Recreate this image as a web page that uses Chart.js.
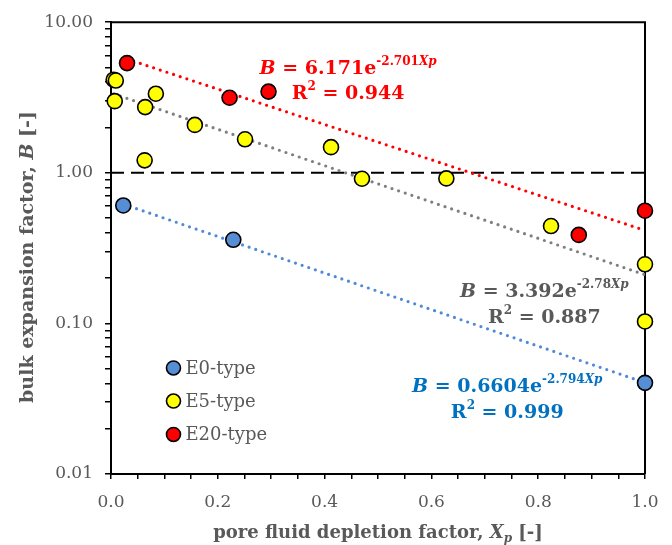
<!DOCTYPE html>
<html>
<head>
<meta charset="utf-8">
<script src="https://cdn.jsdelivr.net/npm/chart.js@4.4.1/dist/chart.umd.min.js"></script>
<style>
  html, body { margin: 0; padding: 0; background: #fff; }
</style>
</head>
<body>
<canvas id="chart" width="672" height="545"></canvas>
<script>
// E0-type samples
const e0X = [0.023, 0.229, 1.0];
const e0B = [0.607, 0.359, 0.0403];

// E5-type samples
const e5X = [0.005, 0.009, 0.007, 0.064, 0.084, 0.063, 0.157, 0.251, 0.412, 0.470, 0.628, 0.824, 1.0, 1.0];
const e5B = [4.15, 4.10, 2.99, 2.73, 3.35, 1.21, 2.08, 1.67, 1.48, 0.913, 0.918, 0.443, 0.247, 0.103];

// E20-type samples
const e20X = [0.030, 0.222, 0.295, 0.876, 1.0];
const e20B = [5.35, 3.15, 3.46, 0.387, 0.56];

// exponential fits B = a * exp(b * Xp), same order as the series
const seriesNames = ["E0-type", "E5-type", "E20-type"];
const fitA = [0.6604, 3.392, 6.171];
const fitB = [-2.794, -2.78, -2.701];
const fitR2 = [0.999, 0.887, 0.944];

// axis ticks
const yMajor = [0.01, 0.1, 1, 10];
const xLabels = [0, 0.2, 0.4, 0.6, 0.8, 1.0];

// styling
const FONT = "'DejaVu Serif', serif";
const markerFill = ["#558ed5", "#ffff00", "#ff0000"];
const trendColor = ["#4f8ad8", "#7f7f7f", "#ff0000"];
const eqColor = ["#0070c0", "#595959", "#ff0000"];
const textGray = "#595959";

// where the fit equations sit (data coords: centre x, baseline of each line)
const eqAnchor = [
  { x: 0.742, y1: 0.0348, y2: 0.0237 },
  { x: 0.8115, y1: 0.150, y2: 0.101 },
  { x: 0.444, y1: 4.54, y2: 3.07 }
];
const legendAnchor = { x: 0.117, y: [0.0506, 0.0305, 0.0183] };

const allX = [e0X, e5X, e20X];
const allB = [e0B, e5B, e20B];

function toPoints(xs, ys) {
  return xs.map((x, i) => ({ x: x, y: ys[i] }));
}

// trend line drawn between the smallest and largest Xp of a series
function trendPoints(s) {
  const lo = Math.min(...allX[s]);
  const hi = Math.max(...allX[s]);
  return [lo, hi].map(x => ({ x: x, y: fitA[s] * Math.exp(fitB[s] * x) }));
}

const datasets = [];
[0, 1, 2].forEach(s => {
  datasets.push({
    type: "scatter",
    label: seriesNames[s],
    data: toPoints(allX[s], allB[s]),
    backgroundColor: markerFill[s],
    borderColor: "#000",
    pointRadius: 7.5,
    pointBorderWidth: 1.6,
    order: 2 - s,
    clip: false
  });
});
[0, 1, 2].forEach(s => {
  datasets.push({
    type: "line",
    label: seriesNames[s] + " fit",
    data: trendPoints(s),
    borderColor: trendColor[s],
    borderWidth: 3.2,
    borderDash: [0, 7],
    borderCapStyle: "round",
    pointRadius: 0,
    fill: false,
    order: 5
  });
});
// B = 1 reference line
datasets.push({
  type: "line",
  label: "B = 1",
  data: [{ x: 0, y: 1 }, { x: 1, y: 1 }],
  borderColor: "#000",
  borderWidth: 2,
  borderDash: [13, 7],
  pointRadius: 0,
  fill: false,
  order: 6
});

// draw a row of text pieces with mixed fonts
function drawRuns(ctx, runs, x, y, align) {
  let total = 0;
  runs.forEach(r => {
    ctx.font = r.font;
    r.w = ctx.measureText(r.text).width;
    total += r.w;
  });
  let cx = align === "center" ? x - total / 2 : x;
  runs.forEach(r => {
    ctx.font = r.font;
    ctx.fillStyle = r.color;
    ctx.fillText(r.text, cx, y + (r.dy || 0));
    cx += r.w;
  });
}

const framePlugin = {
  id: "frame",
  beforeDatasetsDraw(chart) {
    const { ctx, chartArea: a } = chart;
    ctx.save();
    ctx.strokeStyle = "#000";
    ctx.lineWidth = 2;
    ctx.beginPath();
    ctx.moveTo(a.left, a.top);
    ctx.lineTo(a.right, a.top);
    ctx.lineTo(a.right, a.bottom);
    ctx.stroke();
    ctx.restore();
  }
};

const textPlugin = {
  id: "texts",
  afterDatasetsDraw(chart) {
    const { ctx, chartArea: a } = chart;
    const xs = chart.scales.x, ys = chart.scales.y;
    ctx.save();
    ctx.textBaseline = "alphabetic";

    // fit equations
    [0, 1, 2].forEach(s => {
      const c = eqColor[s];
      const big = "bold 19px " + FONT;
      const bigI = "italic bold 19px " + FONT;
      const sup = "bold 12px " + FONT;
      const supI = "italic bold 12px " + FONT;
      const px = xs.getPixelForValue(eqAnchor[s].x);
      drawRuns(ctx, [
        { text: "B", font: bigI, color: c },
        { text: " = " + fitA[s] + "e", font: big, color: c },
        { text: String(fitB[s]), font: sup, color: c, dy: -9 },
        { text: "Xp", font: supI, color: c, dy: -9 }
      ], px, ys.getPixelForValue(eqAnchor[s].y1), "center");
      drawRuns(ctx, [
        { text: "R", font: big, color: c },
        { text: "2", font: sup, color: c, dy: -9 },
        { text: " = " + fitR2[s].toFixed(3), font: big, color: c }
      ], px, ys.getPixelForValue(eqAnchor[s].y2), "center");
    });

    // legend
    ctx.textBaseline = "middle";
    [0, 1, 2].forEach(s => {
      const mx = xs.getPixelForValue(legendAnchor.x);
      const my = ys.getPixelForValue(legendAnchor.y[s]);
      ctx.beginPath();
      ctx.arc(mx, my, 7, 0, Math.PI * 2);
      ctx.fillStyle = markerFill[s];
      ctx.fill();
      ctx.lineWidth = 1.6;
      ctx.strokeStyle = "#000";
      ctx.stroke();
      ctx.font = "18px " + FONT;
      ctx.fillStyle = textGray;
      ctx.fillText(seriesNames[s], mx + 12, my + 1);
    });

    // axis titles
    ctx.textBaseline = "alphabetic";
    const tb = "bold 18px " + FONT;
    const tbi = "italic bold 18px " + FONT;
    drawRuns(ctx, [
      { text: "pore fluid depletion factor, ", font: tb, color: textGray },
      { text: "X", font: tbi, color: textGray },
      { text: "p", font: "italic bold 12px " + FONT, color: textGray, dy: 4 },
      { text: " [-]", font: tb, color: textGray }
    ], (a.left + a.right) / 2, 538, "center");

    const yb = "bold 19px " + FONT;
    const ybi = "italic bold 19px " + FONT;
    ctx.translate(33, 257);
    ctx.rotate(-Math.PI / 2);
    drawRuns(ctx, [
      { text: "bulk expansion factor, ", font: yb, color: textGray },
      { text: "B", font: ybi, color: textGray },
      { text: " [-]", font: yb, color: textGray }
    ], 0, 0, "center");
    ctx.restore();
  }
};

new Chart(document.getElementById("chart"), {
  data: { datasets: datasets },
  options: {
    responsive: false,
    animation: false,
    devicePixelRatio: 1,
    layout: { padding: { top: 18, right: 27, left: 0, bottom: 0 } },
    plugins: { legend: { display: false }, tooltip: { enabled: false } },
    scales: {
      x: {
        type: "linear",
        min: 0,
        max: 1,
        afterBuildTicks: axis => {
          const t = [];
          for (let i = 0; i <= 20; i++) t.push({ value: i / 20 });
          axis.ticks = t;
        },
        ticks: {
          autoSkip: false,
          maxRotation: 0,
          padding: 13,
          color: textGray,
          font: { family: FONT, size: 17 },
          callback: v => xLabels.some(l => Math.abs(l - v) < 1e-9) ? v.toFixed(1) : ""
        },
        grid: { drawOnChartArea: false, drawTicks: true, tickLength: 5, color: "#000", lineWidth: 1.5 },
        border: { color: "#000", width: 2 },
        afterFit: axis => { axis.height = 71; }
      },
      y: {
        type: "logarithmic",
        min: 0.01,
        max: 10,
        afterBuildTicks: axis => {
          const t = [];
          yMajor.forEach((d, k) => {
            if (k === yMajor.length - 1) { t.push({ value: d }); return; }
            for (let m = 1; m <= 9; m++) t.push({ value: m === 1 ? d : d * m });
          });
          axis.ticks = t;
        },
        ticks: {
          autoSkip: false,
          padding: 12,
          color: textGray,
          font: { family: FONT, size: 17 },
          callback: v => yMajor.includes(v) ? v.toFixed(2) : ""
        },
        grid: { drawOnChartArea: false, drawTicks: true, tickLength: 6, color: "#000", lineWidth: 1.5 },
        border: { color: "#000", width: 2 },
        afterFit: axis => { axis.width = 111; }
      }
    }
  },
  plugins: [framePlugin, textPlugin]
});
</script>
</body>
</html>
